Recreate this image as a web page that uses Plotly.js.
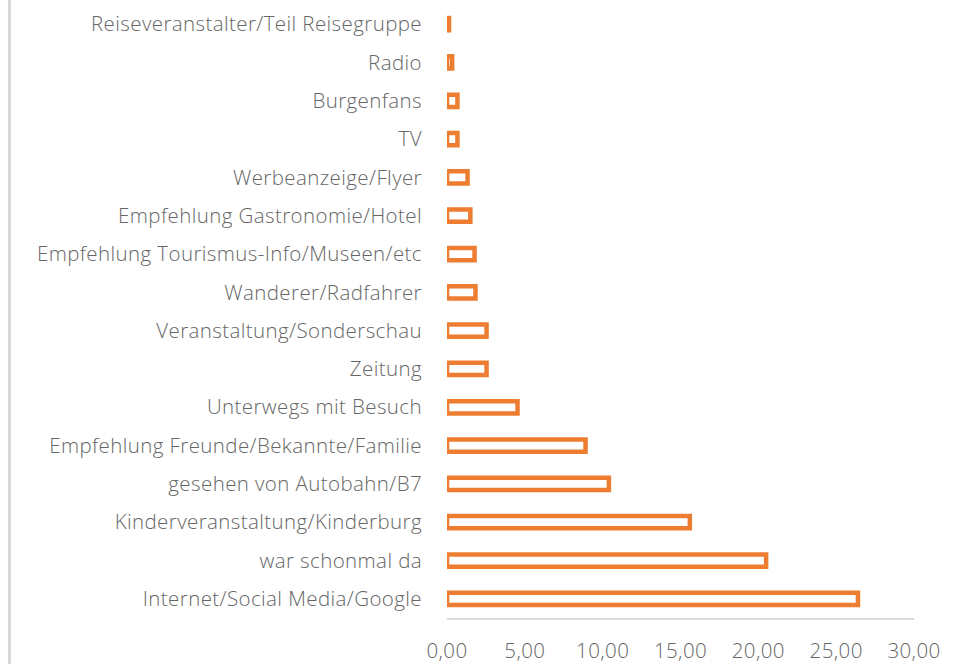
<!DOCTYPE html>
<html>
<head>
<meta charset="utf-8">
<script src="https://cdn.plot.ly/plotly-3.0.1.min.js"></script>
<style>
html,body{margin:0;padding:0;background:#fff;}
#chart{width:958px;height:664px;}
.xtick text,.ytick text{letter-spacing:0.4px;}
</style>
</head>
<body>
<div id="chart"></div>
<script>
// categories, top to bottom as shown
const categories = [
  "Reiseveranstalter/Teil Reisegruppe",
  "Radio",
  "Burgenfans",
  "TV",
  "Werbeanzeige/Flyer",
  "Empfehlung Gastronomie/Hotel",
  "Empfehlung Tourismus-Info/Museen/etc",
  "Wanderer/Radfahrer",
  "Veranstaltung/Sonderschau",
  "Zeitung",
  "Unterwegs mit Besuch",
  "Empfehlung Freunde/Bekannte/Familie",
  "gesehen von Autobahn/B7",
  "Kinderveranstaltung/Kinderburg",
  "war schonmal da",
  "Internet/Social Media/Google"
];
const values = [0.13, 0.33, 0.67, 0.67, 1.32, 1.50, 1.77, 1.83, 2.54, 2.54, 4.53, 8.90, 10.40, 15.60, 20.50, 26.40];
const xTicks = [0, 5, 10, 15, 20, 25, 30];

const W = 958, L = 447, R = 44;
const plotW = W - L - R;

const trace = {
  type: 'bar',
  orientation: 'h',
  y: categories,
  x: values,
  marker: {color: '#ffffff', line: {color: '#ED7D31', width: 4.5}},
  hoverinfo: 'x+y'
};

const layout = {
  width: 958,
  height: 664,
  margin: {l: L, r: R, t: 5, b: 46, pad: 0},
  paper_bgcolor: '#ffffff',
  plot_bgcolor: '#ffffff',
  bargap: 0.68,
  showlegend: false,
  separators: ',.',
  font: {family: '"Open Sans", "Noto Sans", sans-serif', size: 20.5, weight: 300, color: '#666666'},
  xaxis: {
    range: [0, 30],
    tickvals: xTicks,
    tickformat: '.2f',
    showgrid: false,
    zeroline: false,
    showline: true,
    linecolor: '#d9d9d9',
    linewidth: 2,
    ticks: '',
    ticklabelstandoff: 13,
    fixedrange: true
  },
  yaxis: {
    type: 'category',
    autorange: 'reversed',
    showgrid: false,
    zeroline: false,
    showline: false,
    ticks: '',
    ticklabelstandoff: 24,
    fixedrange: true
  },
  shapes: [{
    type: 'line', xref: 'paper', yref: 'paper',
    x0: (9.5 - L) / plotW, x1: (9.5 - L) / plotW,
    y0: -1, y1: 2,
    line: {color: '#d9d9d9', width: 3},
    layer: 'below'
  }]
};

Plotly.newPlot('chart', [trace], layout, {displayModeBar: false, staticPlot: true});
</script>
</body>
</html>
